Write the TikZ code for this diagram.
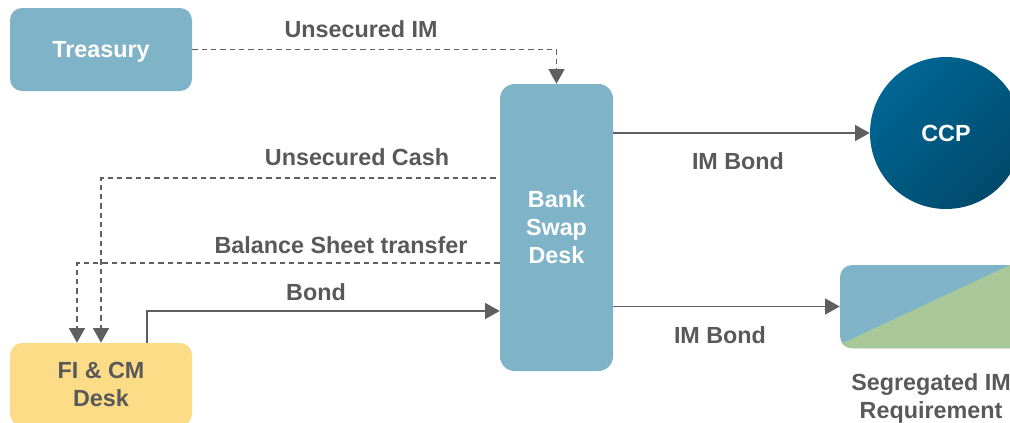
\documentclass[tikz,border=0pt]{standalone}
\usepackage{fontspec}
\setmainfont{Liberation Sans}
\usetikzlibrary{arrows.meta,calc}
\definecolor{boxblue}{HTML}{7FB3C8}
\definecolor{boxyellow}{HTML}{FDDC87}
\definecolor{imgreen}{HTML}{A8C89A}
\definecolor{txtgray}{HTML}{595959}
\definecolor{linegray}{HTML}{5F5F5F}
\definecolor{ccplight}{HTML}{006694}
\definecolor{ccpdark}{HTML}{004A6B}
\begin{document}
\begin{tikzpicture}[x=0.75pt,y=-0.75pt,
  font=\bfseries\fontsize{17.5}{21}\selectfont,
  widebox/.style={rectangle, rounded corners=9pt, minimum width=136.5pt, minimum height=62.25pt, inner sep=0pt, align=center, text depth=0pt},
  lbl/.style={text=txtgray, inner sep=0pt, align=center},
  flow/.style={draw=linegray, line width=1pt, -{Triangle[length=11pt,width=12pt]}},
  dflow/.style={flow, dash pattern=on 4pt off 3pt},
]
\useasboundingbox (0,0) rectangle (1010,422);
\clip (0,0) rectangle (1010,422);

\node[widebox, fill=boxblue, text=white] (treasury) at (101,49.5) {Treasury};
\node[rectangle, rounded corners=11pt, fill=boxblue, text=white, minimum width=84.75pt, minimum height=215.25pt, inner sep=0pt, align=center, text depth=0pt] (bank) at (556.5,227.5) {Bank\\Swap\\Desk};
\node[widebox, fill=boxyellow, text=txtgray] (fi) at (101,384.5) {FI \& CM\\Desk};
\node[circle, minimum size=114pt, inner sep=0pt, top color=ccplight, bottom color=ccpdark, shading angle=45, text=white, text depth=0pt] (ccp) at (946,133) {CCP};
\node[widebox, fill=boxblue] (seg) at (931,306.5) {};
\begin{scope}
  \clip[rounded corners=9pt] (seg.south west) rectangle (seg.north east);
  \fill[imgreen] (830,349) -- (1040,251) -- (1040,360) -- (830,360) -- cycle;
\end{scope}
\node[lbl] (seglbl) at (931,398.5) {Segregated IM\\Requirement};

\draw[dflow] (treasury.east) -| (bank.north);
\draw[dflow] ($(bank.west)+(-4,-49.5)$) -| (fi.north);
\draw[dflow] ($(bank.west)+(0,35.5)$) -| ($(fi.north)+(-24,0)$);
\draw[flow] ($(fi.north)+(46,0)$) |- ($(bank.west)+(0,83.5)$);
\draw[flow] (bank.east |- ccp.west) -- (ccp.west);
\draw[flow] (bank.east |- seg.west) -- (seg.west);

\node[lbl] (l1) at (361,29) {Unsecured IM};
\node[lbl] (l2) at (357,157) {Unsecured Cash};
\node[lbl] (l3) at (341,245) {Balance Sheet transfer};
\node[lbl] (l4) at (316,292) {Bond};
\node[lbl] (l5) at (738,161) {IM Bond};
\node[lbl] (l6) at (720,335) {IM Bond};
\end{tikzpicture}
\end{document}
